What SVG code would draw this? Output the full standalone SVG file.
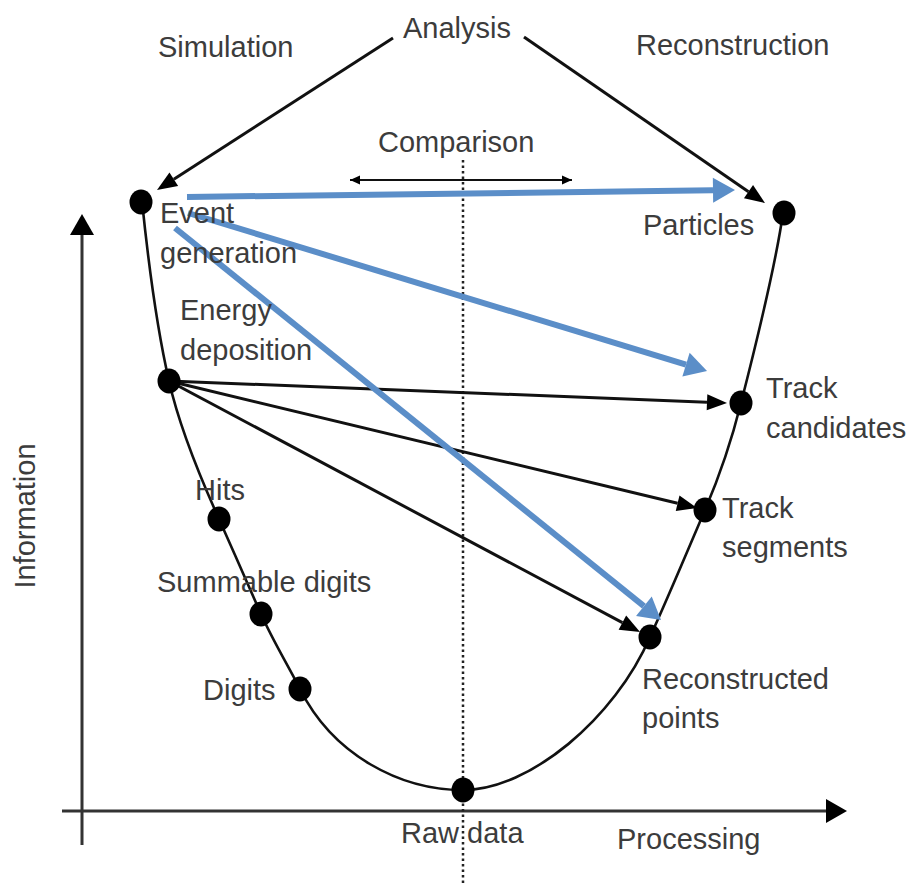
<svg xmlns="http://www.w3.org/2000/svg" width="918" height="883" viewBox="0 0 918 883">
<style>
text{font-family:"Liberation Sans",Arial,sans-serif;font-size:29px;fill:#3c3c3c}
.dot{fill:#000}
.curve{fill:none;stroke:#111;stroke-width:2.6}
.blk{fill:none;stroke:#111;stroke-width:3}
.blue{fill:none;stroke:#5b8ec8;stroke-width:6}
.axis{fill:none;stroke:#333;stroke-width:3}
</style>
<defs>
<marker id="ah" markerUnits="userSpaceOnUse" markerWidth="24" markerHeight="20" viewBox="0 -10 22 20" refX="0" refY="0" orient="auto"><path d="M0,-8 L20,0 L0,8 z" fill="#000"/></marker>
<marker id="axh" markerUnits="userSpaceOnUse" markerWidth="26" markerHeight="26" viewBox="0 -13 24 26" refX="0" refY="0" orient="auto"><path d="M0,-12 L21,0 L0,12 z" fill="#000"/></marker>
<marker id="bh" markerUnits="userSpaceOnUse" markerWidth="26" markerHeight="28" viewBox="0 -14 24 28" refX="0" refY="0" orient="auto"><path d="M0,-12.5 L22,0 L0,12.5 z" fill="#5b8ec8"/></marker>
<marker id="sh" markerUnits="userSpaceOnUse" markerWidth="12" markerHeight="10" viewBox="0 -5 12 10" refX="10" refY="0" orient="auto-start-reverse"><path d="M0,-4.5 L10,0 L0,4.5 z" fill="#000"/></marker>
</defs>

<g id="axes">
<line class="axis" x1="82" y1="845" x2="82" y2="235" marker-end="url(#axh)"/>
<line class="axis" x1="62" y1="811" x2="826" y2="811" marker-end="url(#axh)"/>
<line x1="463" y1="160" x2="463" y2="883" stroke="#222" stroke-width="2.5" stroke-dasharray="2.5 3"/>
<text transform="translate(35,516) rotate(-90)" text-anchor="middle">Information</text>
<text x="617" y="849">Processing</text>
</g>

<g id="curve">
<path class="curve" d="M142,201 C146,240 155,320 169,381 C180,430 205,488 219,519 C233,550 248,585 261,614 C274,643 288,665 300,689 C333,755 400,790 463,790 C530,790 615,718 650,637 C667,600 690,545 705,510 C720,475 733,435 741,403 C752,360 775,270 783,213"/>
</g>

<g id="connectors">
<line class="blk" x1="393" y1="38" x2="173.8" y2="179.2" marker-end="url(#ah)"/>
<line class="blk" x1="524" y1="37" x2="748.5" y2="191.7" marker-end="url(#ah)"/>
<line class="blk" x1="169" y1="381" x2="707" y2="402.2" marker-end="url(#ah)"/>
<line class="blk" x1="169" y1="381" x2="677.6" y2="503.3" marker-end="url(#ah)"/>
<line class="blk" x1="169" y1="381" x2="622.4" y2="622.6" marker-end="url(#ah)"/>
<line x1="350" y1="180" x2="572" y2="180" stroke="#111" stroke-width="2" marker-start="url(#sh)" marker-end="url(#sh)"/>
<line class="blue" x1="187" y1="197" x2="713" y2="190.3" marker-end="url(#bh)"/>
<line class="blue" x1="188" y1="213" x2="686" y2="364.6" marker-end="url(#bh)"/>
<line class="blue" x1="175" y1="228" x2="643.9" y2="606.2" marker-end="url(#bh)"/>
</g>

<g id="analysis"><text x="403" y="38">Analysis</text></g>
<g id="simulation"><text x="158" y="57">Simulation</text></g>
<g id="reconstruction"><text x="636" y="55">Reconstruction</text></g>
<g id="comparison"><text x="378" y="152">Comparison</text></g>

<g id="event-generation"><ellipse class="dot" cx="141" cy="202" rx="11.5" ry="12.5"/><text x="160" y="223">Event</text><text x="160" y="263">generation</text></g>
<g id="particles"><ellipse class="dot" cx="784" cy="213" rx="11.5" ry="12.5"/><text x="643" y="235">Particles</text></g>
<g id="energy-deposition"><ellipse class="dot" cx="169" cy="381" rx="11.5" ry="12.5"/><text x="180" y="320">Energy</text><text x="180" y="360">deposition</text></g>
<g id="track-candidates"><ellipse class="dot" cx="741" cy="403" rx="11.5" ry="12.5"/><text x="766" y="398">Track</text><text x="766" y="438">candidates</text></g>
<g id="hits"><ellipse class="dot" cx="219" cy="519" rx="11.5" ry="12.5"/><text x="195" y="500">Hits</text></g>
<g id="track-segments"><ellipse class="dot" cx="705" cy="510" rx="11.5" ry="12.5"/><text x="722" y="518">Track</text><text x="722" y="557">segments</text></g>
<g id="summable-digits"><ellipse class="dot" cx="261" cy="614" rx="11.5" ry="12.5"/><text x="157" y="592">Summable digits</text></g>
<g id="reconstructed-points"><ellipse class="dot" cx="650" cy="637" rx="11.5" ry="12.5"/><text x="642" y="689">Reconstructed</text><text x="642" y="728">points</text></g>
<g id="digits"><ellipse class="dot" cx="300" cy="689" rx="11.5" ry="12.5"/><text x="203" y="700">Digits</text></g>
<g id="raw-data"><ellipse class="dot" cx="463" cy="790" rx="11.5" ry="12.5"/><text x="401" y="843">Raw data</text></g>
</svg>
